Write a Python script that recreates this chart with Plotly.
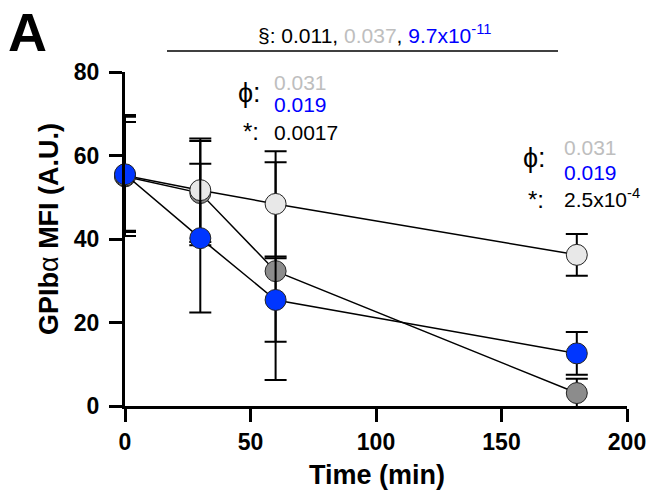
import plotly.graph_objects as go

# ---- data ----
time_min = [0, 30, 60, 180]
light_mean = [55.2, 51.7, 48.4, 36.2]
light_err = [14.5, 12.4, 12.6, 5.0]
dark_mean = [55.0, 51.0, 32.3, 3.1]
dark_err = [13.0, 12.5, 26.1, 3.4]
blue_mean = [55.5, 40.2, 25.4, 12.6]
blue_err = [13.8, 17.8, 10.0, 5.1]

x_ticks = [0, 50, 100, 150, 200]
y_ticks = [0, 20, 40, 60, 80]

FONT = "Arial, Liberation Sans, sans-serif"
GREY_TXT = "#BEBEBE"
BLUE_TXT = "#0000FF"

# plot area in pixels
L, R, T, B = 125, 627, 72, 406
W, H = 650, 502


def px(x):
    return (x - L) / (R - L)


def py(y):
    return (B - y) / (B - T)


fig = go.Figure()

series = [
    (dark_mean, dark_err, "#8C8C8C"),
    (light_mean, light_err, "#E8E8E8"),
    (blue_mean, blue_err, "#0036FF"),
]
for mean, err, col in series:
    fig.add_trace(go.Scatter(
        x=time_min, y=mean, mode="lines+markers",
        line=dict(color="black", width=1.5),
        marker=dict(size=21, color=col, line=dict(color="#222222", width=1)),
        error_y=dict(type="data", array=err, visible=True, color="black",
                     thickness=2, width=11),
        cliponaxis=False, showlegend=False, hoverinfo="skip",
    ))

ann = []


def add(text, x, y, size=21, color="black", xanchor="left", angle=0):
    ann.append(dict(text=text, x=px(x), y=py(y), xref="paper", yref="paper",
                    xanchor=xanchor, yanchor="middle", showarrow=False,
                    textangle=angle,
                    font=dict(family=FONT, size=size, color=color)))


# panel letter
ann.append(dict(text="<b>A</b>", x=px(6), y=py(0), xref="paper", yref="paper",
                xanchor="left", yanchor="top", showarrow=False,
                font=dict(family=FONT, size=54, color="black")))

# axis titles
add("<b>Time (min)</b>", 377, 475, size=27, xanchor="center")
add("<b>GPIb</b>α<b> MFI (A.U.)</b>", 49, 229, size=27, xanchor="center", angle=-90)

# top annotation
add("§: 0.011, <span style='color:%s'>0.037</span>, "
    "<span style='color:%s'>9.7x10<sup>-11</sup></span>" % (GREY_TXT, BLUE_TXT),
    374, 34, size=21, xanchor="center")

# left group
add("ϕ:", 236, 93, size=27)
add("0.031", 272, 82, color=GREY_TXT)
add("0.019", 272, 105, color=BLUE_TXT)
add("*:", 241, 131, size=24)
add("0.0017", 272, 132)

# right group
add("ϕ:", 521, 158, size=27)
add("0.031", 562, 147, color=GREY_TXT)
add("0.019", 562, 172, color=BLUE_TXT)
add("*:", 526, 199, size=24)
add("2.5x10<sup>-4</sup>", 562, 198)

axis_common = dict(showgrid=False, zeroline=False, showline=True,
                   linecolor="black", linewidth=3, automargin=False,
                   ticks="outside", ticklen=13, tickwidth=3, tickcolor="black",
                   tickfont=dict(family=FONT, size=23, color="black"))

fig.update_layout(
    width=W, height=H,
    margin=dict(l=L, r=W - R, t=T, b=H - B),
    plot_bgcolor="white", paper_bgcolor="white",
    font=dict(family=FONT, color="black"),
    annotations=ann,
    shapes=[dict(type="line", xref="paper", yref="paper",
                 x0=px(167), x1=px(558), y0=py(51), y1=py(51),
                 line=dict(color="black", width=1.5))],
    xaxis=dict(range=[0, 200], tickvals=x_ticks,
               ticktext=["<b>%d</b>" % v for v in x_ticks], **axis_common),
    yaxis=dict(range=[0, 80], tickvals=y_ticks, ticklabelstandoff=5,
               ticktext=["<b>%d</b>" % v for v in y_ticks], **axis_common),
)

fig.write_html("out.html", config={"displayModeBar": False},
               post_script="document.body.style.margin='0';"
                           "document.body.style.overflow='hidden';")
